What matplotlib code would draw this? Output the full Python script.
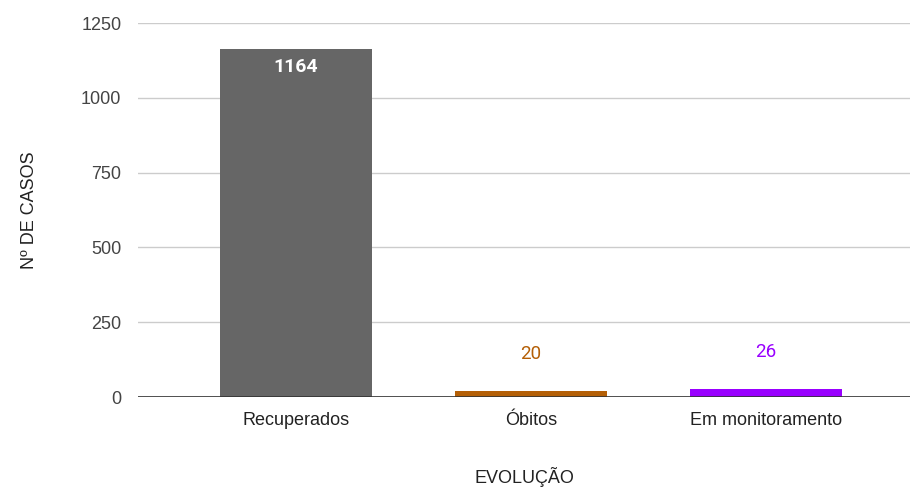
import matplotlib
matplotlib.use("Agg")
from matplotlib import pyplot as plt

categories = ["Recuperados", "Óbitos", "Em monitoramento"]
values = [1164, 20, 26]
colors = ["#666666", "#b45f06", "#9900ff"]
label_colors = ["#ffffff", "#b45f06", "#9900ff"]
yticks = [0, 250, 500, 750, 1000, 1250]

plt.rcParams['font.family'] = ['Liberation Sans', 'DejaVu Sans']

fig = plt.figure(figsize=(9.13, 4.92), dpi=100)
ax = fig.add_axes([138 / 913, 1 - 397 / 492, (910 - 138) / 913, (397 - 23) / 492])

x = list(range(len(categories)))
bars = ax.bar(x, values, width=152 / 235, color=colors, zorder=3)

ax.set_xlim(-158 / 235, (910 - 296) / 235)
ax.set_ylim(0, 1250)
ax.set_yticks(yticks)
ax.set_yticklabels([str(t) for t in yticks], fontsize=13, color="#444444")
ax.set_xticks(x)
ax.set_xticklabels(categories, fontsize=13, color="#222222")
ax.tick_params(axis='y', length=0, pad=12)
ax.tick_params(axis='x', length=0, pad=11)
ax.grid(axis='y', color="#cccccc", linewidth=1, zorder=0)
ax.axhline(0, color="#333333", linewidth=1.2, zorder=4)
for s in ax.spines.values():
    s.set_visible(False)

# data labels
for i, (b, v) in enumerate(zip(bars, values)):
    if i == 0:
        ax.text(b.get_x() + b.get_width() / 2, v - 30, str(v), ha='center', va='top',
                fontsize=14, fontweight='bold', color=label_colors[i], family='Roboto')
    else:
        ax.text(b.get_x() + b.get_width() / 2, v + 95, str(v), ha='center', va='bottom',
                fontsize=13.5, color=label_colors[i], family='Roboto')

ax.set_ylabel("Nº DE CASOS", fontsize=13, color="#222222", labelpad=31)
ax.set_xlabel("EVOLUÇÃO", fontsize=13, color="#222222", labelpad=27)

fig.savefig("out.png", dpi=100)
